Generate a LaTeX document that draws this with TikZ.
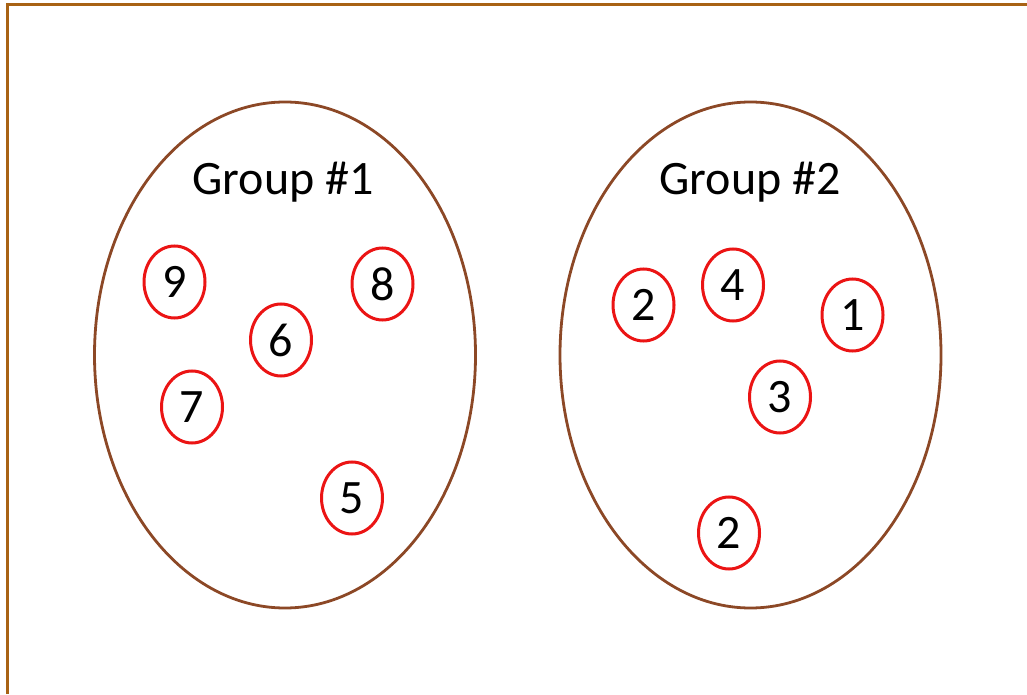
\documentclass[tikz,border=0pt]{standalone}
\usepackage{fontspec}
\setmainfont{Carlito}
\usetikzlibrary{shapes.geometric}
\definecolor{framebrown}{RGB}{168,98,20}
\definecolor{setbrown}{RGB}{140,72,38}
\definecolor{itemred}{RGB}{235,20,20}

\begin{document}
\begin{tikzpicture}[x=1pt, y=1pt, font=\fontsize{48}{54}\selectfont,
  grp/.style={draw=setbrown, line width=2.8pt, ellipse, minimum width=381pt, minimum height=506pt, inner sep=0pt},
  item/.style={draw=itemred, line width=3pt, ellipse, minimum width=61pt, minimum height=72pt, inner sep=0pt},
  title/.style={anchor=base}]
\useasboundingbox (0,0) rectangle (1027,694);
\draw[framebrown, line width=3.2pt] (7.2,0) |- (1027,689.5);
% the two sets
\node[grp] (g1) at (285,339) {};
\node[grp] (g2) at (750.5,339) {};
\node[title] (t1) at (283,499) {Group \#1};
\node[title] (t2) at (750,499) {Group \#2};
% members of group 1
\node[item] (n9) at (174.5,412) {9};
\node[item] (n8) at (382.5,410) {8};
\node[item] (n6) at (281,354) {6};
\node[item] (n7) at (192,287) {7};
\node[item] (n5) at (352,196) {5};
% members of group 2
\node[item] (m2) at (643.5,389) {2};
\node[item] (m4) at (733,409) {4};
\node[item] (m1) at (852.5,379) {1};
\node[item] (m3) at (780,297) {3};
\node[item] (m2b) at (729,161) {2};
\end{tikzpicture}
\end{document}
